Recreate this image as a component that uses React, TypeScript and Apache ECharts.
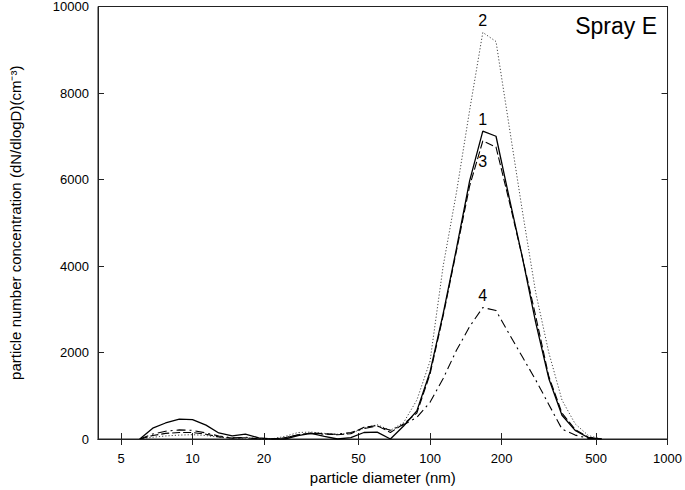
import React, { useEffect, useRef } from "react";
import * as echarts from "echarts";

// particle diameters (nm)
const diameters = [
  6.0, 6.8, 7.7, 8.8, 10.0, 11.4, 12.9, 14.7, 16.7, 19.0, 21.5, 24.5, 27.8, 31.6,
  35.9, 40.8, 46.4, 52.7, 59.9, 68.1, 77.4, 88.0, 100, 113.6, 129.2, 146.8, 166.8,
  189.6, 215.4, 244.8, 278.3, 316.2, 359.4, 408.4, 464.2, 527.5,
];

// series values (dN/dlogD, cm^-3)
const series1 = [
  0, 250, 370, 460, 450, 320, 140, 70, 115, 25, 0, 0, 80, 130, 60, 0, 30, 150, 160, 0,
  300, 650, 1550, 2900, 4400, 5970, 7120, 7000, 5580, 4200, 2700, 1400, 550, 200, 30, 0,
];
const series2 = [
  0, 40, 70, 90, 100, 80, 40, 15, 20, 0, 0, 60, 150, 160, 130, 110, 130, 250, 330, 200,
  380, 900, 1800, 4000, 5700, 7600, 9400, 9190, 7230, 5270, 3400, 2000, 900, 350, 80, 0,
];
const series3 = [
  0, 80, 130, 150, 150, 110, 50, 20, 30, 0, 0, 30, 100, 140, 120, 100, 120, 270, 310, 150,
  350, 600, 1500, 2850, 4350, 5850, 6890, 6750, 5500, 4200, 2850, 1450, 600, 220, 40, 0,
];
const series4 = [
  0, 115, 180, 210, 200, 140, 70, 25, 40, 0, 0, 30, 90, 130, 110, 110, 150, 240, 300, 200,
  330, 500, 850, 1400, 2050, 2600, 3040, 2970, 2430, 1900, 1370, 800, 230, 90, 15, 0,
];

const seriesNames = ["1", "2", "3", "4"];
const xTicks = [5, 10, 20, 50, 100, 200, 500, 1000];
const labelIndex = 26; // peak bin where curve numbers are placed

const FONT = "Liberation Sans, Arial, sans-serif";

export default function App() {
  const ref = useRef<HTMLDivElement>(null);
  useEffect(() => {
    if (!ref.current) return;
    const chart = echarts.init(ref.current, undefined, { renderer: "svg" });
    const axisLine = { show: true, lineStyle: { color: "#222", width: 1 } };
    const lines = [
      { vals: series1, type: "solid", width: 1.3, color: "#000", pos: "top", dist: 4 },
      { vals: series2, type: [1.2, 2], width: 1, color: "#444", pos: "top", dist: 4 },
      { vals: series3, type: [8, 3], width: 1.1, color: "#000", pos: "bottom", dist: 12 },
      { vals: series4, type: [9, 4, 2, 4], width: 1.1, color: "#000", pos: "top", dist: 4 },
    ];
    chart.setOption({
      animation: false,
      backgroundColor: "#fff",
      grid: {
        left: 88,
        right: 14,
        top: 5,
        bottom: 51,
        show: true,
        borderColor: "#222",
        borderWidth: 1,
      },
      xAxis: [
        {
          type: "log",
          logBase: 10,
          min: 4,
          max: 1000,
          name: "particle diameter (nm)",
          nameLocation: "middle",
          nameGap: 31,
          nameTextStyle: { fontSize: 15, fontFamily: FONT, color: "#000" },
          axisLine,
          axisTick: {
            show: true,
            inside: false,
            length: 6,
            customValues: xTicks,
            lineStyle: { color: "#222" },
          },
          minorTick: { show: false },
          axisLabel: {
            show: true,
            customValues: xTicks,
            margin: 13,
            fontSize: 13,
            fontFamily: FONT,
            color: "#000",
            formatter: (v: number) => String(Math.round(v)),
          },
          splitLine: { show: false },
        },
        {
          type: "log",
          logBase: 10,
          min: 4,
          max: 1000,
          position: "bottom",
          axisLine: { show: true, lineStyle: { color: "#222", width: 1 } },
          axisTick: {
            show: true,
            inside: true,
            length: 6,
            customValues: xTicks,
            lineStyle: { color: "#222" },
          },
          axisLabel: { show: false },
          splitLine: { show: false },
        },
      ],
      yAxis: [
        {
          type: "value",
          min: 0,
          max: 10000,
          interval: 2000,
          name: "particle number concentration (dN/dlogD)(cm⁻³)",
          nameLocation: "middle",
          nameGap: 75,
          nameTextStyle: { fontSize: 15, fontFamily: FONT, color: "#000" },
          axisLine,
          axisTick: { show: true, inside: true, length: 6, lineStyle: { color: "#222" } },
          axisLabel: {
            margin: 9,
            fontSize: 13,
            fontFamily: FONT,
            color: "#000",
            formatter: (v: number) => String(v),
          },
          splitLine: { show: false },
        },
        {
          type: "value",
          min: 0,
          max: 10000,
          interval: 2000,
          position: "right",
          axisLine,
          axisTick: { show: true, inside: true, length: 6, lineStyle: { color: "#222" } },
          axisLabel: { show: false },
          splitLine: { show: false },
        },
      ],
      graphic: [
        {
          type: "text",
          right: 28,
          top: 14,
          style: {
            text: "Spray E",
            fontSize: 23,
            fontFamily: FONT,
            fill: "#000",
          },
        },
      ],
      series: lines.map((l, i) => ({
        type: "line",
        name: seriesNames[i],
        xAxisIndex: 0,
        yAxisIndex: 0,
        data: diameters.map((d, j) => [d, l.vals[j]]),
        showSymbol: false,
        symbol: "none",
        lineStyle: { color: l.color, width: l.width, type: l.type },
        itemStyle: { color: l.color },
        markPoint: {
          symbol: "circle",
          symbolSize: 0,
          silent: true,
          data: [
            {
              coord: [diameters[labelIndex], l.vals[labelIndex]],
              label: {
                show: true,
                formatter: seriesNames[i],
                position: l.pos,
                distance: l.dist,
                fontSize: 16,
                fontFamily: FONT,
                color: "#000",
              },
            },
          ],
        },
        z: 2,
      })),
    });
    return () => chart.dispose();
  }, []);
  return (
    <div
      ref={ref}
      style={{ width: 685, height: 490, position: "absolute", left: 0, top: 0 }}
    />
  );
}
